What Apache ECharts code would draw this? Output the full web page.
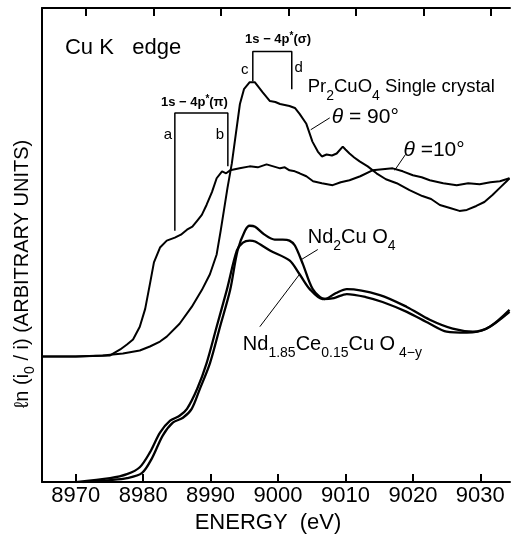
<!DOCTYPE html>
<html><head><meta charset="utf-8">
<script src="https://cdn.jsdelivr.net/npm/echarts@6/dist/echarts.min.js"></script>
<style>html,body{margin:0;padding:0;background:#fff}#c{width:511px;height:539px}</style>
</head><body><div id="c"></div>
<script>
// ---- data (energy in eV, intensity in arbitrary units) ----
const xTicks = [8970, 8980, 8990, 9000, 9010, 9020, 9030];

const theta90E = [8965, 8970, 8974, 8977, 8979.5, 8981, 8982.5, 8983.5, 8985.4, 8987.2, 8988.7, 8989.9, 8990.9, 8991.5, 8992.5, 8993.15, 8993.75, 8994.35, 8994.95, 8995.8, 8996.55, 8997.7, 8998.8, 8999.6, 9000.3, 9001.0, 9001.7, 9002.5, 9003.2, 9004.2, 9005.1, 9005.9, 9006.5, 9007.2, 9008.0, 9008.7, 9009.6, 9010.0, 9010.6, 9011.3, 9012.1, 9013.3, 9014.6, 9016.0, 9017.6, 9019.5, 9021.4, 9022.7, 9024.0, 9025.5, 9026.9, 9028.0, 9029.4, 9030.6, 9031.8, 9033.0, 9033.9, 9034.33];
const theta90Y = [127, 127, 128, 130, 133, 137, 142, 147, 160, 177, 194, 210, 230, 254, 297, 322, 352, 382, 397, 404, 404, 394, 385, 384, 382, 381, 380, 378, 372, 362, 344, 334, 329, 331, 330, 332, 339, 336, 332, 328, 324, 319, 312, 306, 302, 295, 289, 286, 280, 277, 274, 275, 279, 283, 290, 298, 304, 307];

const theta10E = [8965, 8970, 8975.1, 8976.6, 8977.6, 8978.5, 8979.5, 8980.3, 8981.0, 8981.6, 8982.5, 8983.5, 8984.7, 8985.6, 8986.5, 8987.3, 8988.0, 8988.7, 8989.4, 8990.2, 8990.9, 8991.7, 8992.3, 8992.9, 8994.3, 8995.8, 8997.0, 8998.3, 8999.3, 9000.3, 9001.0, 9001.7, 9002.5, 9003.2, 9004.2, 9005.2, 9006.5, 9008.1, 9009.3, 9010.6, 9012.2, 9014.0, 9015.5, 9017.0, 9018.5, 9020.0, 9021.3, 9022.5, 9024.5, 9026.5, 9028.2, 9029.9, 9031.5, 9032.9, 9034.33];
const theta10Y = [127, 127, 128, 134, 139, 144, 157, 175, 200, 222, 237, 244, 247, 250, 255, 258, 264, 270, 280, 293, 307, 314, 312, 315, 317, 319, 318, 321, 319, 317, 318, 315, 314, 312, 309, 304, 302, 300, 303, 305, 309, 315, 316, 317, 314, 310, 308, 305, 302, 300, 302, 301, 303, 304, 307];

const nd2E = [8971, 8975.1, 8977.6, 8979.8, 8981.3, 8982.9, 8984.4, 8985.9, 8987.2, 8988.4, 8989.9, 8991.4, 8992.9, 8994.0, 8995.1, 8995.8, 8996.6, 8998.0, 8999.5, 9000.7, 9001.7, 9002.5, 9003.7, 9005.15, 9006.9, 9008.6, 9010.2, 9015.1, 9019.1, 9022.5, 9025.9, 9028.9, 9031.4, 9034.33];
const nd2Y = [0, 2, 4, 9, 24, 47, 60, 65, 74, 94, 120, 157, 194, 234, 254, 259, 258, 250, 245, 245, 244, 239, 220, 195, 185, 191, 195, 189, 177, 164, 155, 152, 157, 174];

const ceE = [8970, 8975.1, 8977.6, 8979.5, 8981.0, 8982.5, 8984.0, 8985.4, 8986.5, 8988.0, 8989.4, 8990.9, 8992.4, 8993.9, 8994.8, 8995.8, 8996.6, 8998.8, 9001.7, 9003.2, 9004.7, 9006.6, 9008.3, 9010.2, 9013.0, 9015.5, 9019.1, 9022.5, 9025.0, 9028.0, 9030.9, 9034.33];
const ceY = [0, 4, 8, 15, 30, 50, 62, 67, 74, 94, 120, 157, 194, 234, 242, 244, 243, 234, 224, 210, 195, 185, 186, 190, 187, 182, 172, 160, 152, 151, 155, 172];

// annotation geometry (data coordinates)
const sigmaBracket = [[8996.26, 405], [8996.26, 435], [9002.04, 435], [9002.04, 397]];
const piBracket = [[8984.7, 254], [8984.7, 373], [8992.56, 373], [8992.56, 319]];
const leader90 = [[9004.85, 356], [9007.67, 368]];
const leader10 = [[9017.3, 315], [9018.9, 331]];
const leaderNd = [[9003.5, 225], [9005.9, 235]];
const leaderCe = [[8997.3, 157], [9003.2, 210]];

const FONT = '"Liberation Sans", "DejaVu Sans", sans-serif';
const pair = (E, Y) => E.map((e, i) => [e, Y[i]]);

const chart = echarts.init(document.getElementById('c'), null, {renderer: 'canvas'});

function curve(data, w, smooth) {
  return {type: 'line', data, symbol: 'none', smooth: smooth || false, silent: true,
    lineStyle: {color: '#000', width: w}, xAxisIndex: 0, yAxisIndex: 0, z: 3};
}
function thin(data, w) {
  return {type: 'line', data, symbol: 'none', silent: true,
    lineStyle: {color: '#000', width: w}, xAxisIndex: 0, yAxisIndex: 0, z: 2};
}

chart.setOption({
  backgroundColor: '#fff',
  animation: false,
  grid: {left: 42, right: 1, top: 8, bottom: 52},
  xAxis: [{
    type: 'value', min: 8965, max: 9034.4, position: 'bottom',
    axisLine: {show: true, lineStyle: {color: '#000', width: 2}},
    axisTick: {show: true, inside: true, length: 8, lineStyle: {color: '#000', width: 2}, customValues: xTicks},
    axisLabel: {show: true, color: '#000', fontSize: 22, fontFamily: FONT, margin: 3, customValues: xTicks,
      formatter: v => String(v)},
    splitLine: {show: false},
    name: 'ENERGY  (eV)', nameLocation: 'middle', nameGap: 28,
    nameTextStyle: {color: '#000', fontSize: 22, fontFamily: FONT, padding: [0, 16, 0, 0]}
  }, {
    type: 'value', min: 8963.45, max: 9032.85, position: 'top',
    axisLine: {show: true, lineStyle: {color: '#000', width: 2}},
    axisTick: {show: true, inside: true, length: 8, lineStyle: {color: '#000', width: 2}, customValues: xTicks},
    axisLabel: {show: false},
    splitLine: {show: false}
  }],
  yAxis: {
    type: 'value', min: 0, max: 479,
    axisLine: {show: true, lineStyle: {color: '#000', width: 2}},
    axisTick: {show: false}, axisLabel: {show: false}, splitLine: {show: false}
  },
  series: [
    curve(pair(theta90E, theta90Y), 2),
    curve(pair(theta10E, theta10Y), 2),
    curve(pair(nd2E, nd2Y), 2.3, 0.3),
    curve(pair(ceE, ceY), 2.3, 0.3),
    thin(sigmaBracket, 1.5),
    thin(piBracket, 1.5),
    thin(leader90, 1),
    thin(leader10, 1),
    thin(leaderNd, 1),
    thin(leaderCe, 1)
  ]
});

function bigStyle(sz) { return {fontSize: sz, fontFamily: FONT, lineHeight: 32, fill: '#000'}; }
const sub = {fontSize: 14, fontFamily: FONT, lineHeight: 14, verticalAlign: 'bottom', fill: '#000'};
const labels = [
  {p: [8968.4, 439], t: 'Cu K   edge', size: 22, align: 'left'},
  {p: [9000.0, 447], t: '{a|1s − 4p}{s|*}{a|(σ)}', size: 13, align: 'center', small: true},
  {p: [8987.6, 384], t: '{a|1s − 4p}{s|*}{a|(π)}', size: 13, align: 'center', small: true},
  {p: [8995.07, 417], t: 'c', size: 15, align: 'center'},
  {p: [9003.07, 419], t: 'd', size: 15, align: 'center'},
  {p: [8983.67, 351], t: 'a', size: 15, align: 'center'},
  {p: [8991.37, 351], t: 'b', size: 15, align: 'center'},
  {p: [9004.4, 399], t: '{n|Pr}{sub|2}{n|CuO}{sub|4}{n| Single crystal}', align: 'left', rich: true, size: 18.5},
  {p: [9007.96, 369], t: '{it|θ}{n| = 90°}', align: 'left', rich: true, size: 21},
  {p: [9018.6, 335], t: '{it|θ}{n| =10°}', align: 'left', rich: true, size: 21},
  {p: [9004.4, 247], t: '{n|Nd}{sub|2}{n|Cu O}{sub|4}', align: 'left', rich: true, size: 20},
  {p: [8994.78, 139], t: '{n|Nd}{sub|1.85}{n|Ce}{sub|0.15}{n|Cu O}{sub| 4−y}', align: 'left', rich: true, size: 20}
];

const g = [];
labels.forEach(l => {
  const px = chart.convertToPixel({xAxisIndex: 0, yAxisIndex: 0}, l.p);
  let style;
  if (l.rich) {
    const b = bigStyle(l.size);
    style = {text: l.t, x: px[0], y: px[1], align: l.align, verticalAlign: 'middle',
      rich: {n: b, sub: sub, it: Object.assign({}, b, {fontStyle: 'italic'})}};
  } else if (l.small) {
    style = {text: l.t, x: px[0], y: px[1], align: l.align, verticalAlign: 'middle',
      rich: {a: {fontSize: 13, fontWeight: 'bold', fontFamily: FONT, lineHeight: 16, fill: '#000'},
             s: {fontSize: 10, fontWeight: 'bold', fontFamily: FONT, lineHeight: 16, verticalAlign: 'top', fill: '#000'}}};
  } else {
    style = {text: l.t, x: px[0], y: px[1], align: l.align, verticalAlign: 'middle',
      font: l.size + 'px ' + FONT, fill: '#000'};
  }
  g.push({type: 'text', silent: true, z: 10, style});
});

// y-axis title
g.push({type: 'text', silent: true, z: 10, x: 22, y: 274, rotation: Math.PI / 2,
  style: {text: '{n|ℓn (i}{sub|0}{n| / i) (ARBITRARY UNITS)}', x: 0, y: 0, align: 'center', verticalAlign: 'middle',
    rich: {n: {fontSize: 20, fontFamily: FONT, lineHeight: 30, fill: '#000'},
           sub: {fontSize: 14, fontFamily: FONT, lineHeight: 14, verticalAlign: 'bottom', fill: '#000'}}}});

chart.setOption({graphic: g});
</script></body></html>
